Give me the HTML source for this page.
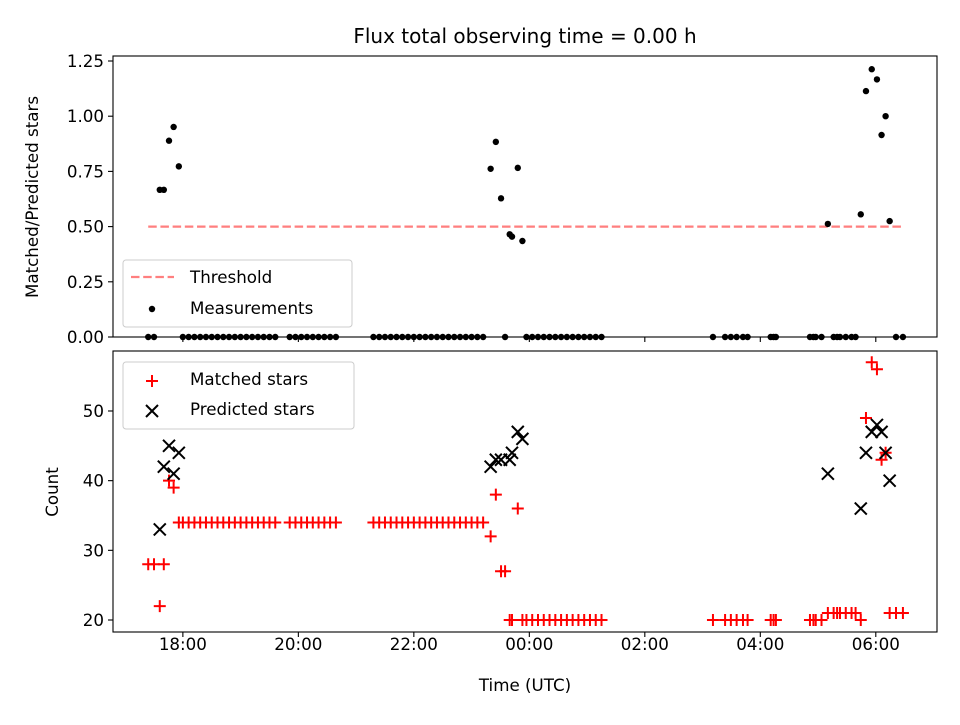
<!DOCTYPE html>
<html><head><meta charset="utf-8"><style>
html,body{margin:0;padding:0;background:#fff;}
svg text{font-family:"DejaVu Sans","Liberation Sans",sans-serif;}
</style></head><body>
<svg id="fig" width="960" height="720" xmlns="http://www.w3.org/2000/svg">
<rect width="960" height="720" fill="#fff"/>
<text x="525" y="43" font-size="20" text-anchor="middle">Flux total observing time = 0.00 h</text>
<g id="topPanel"></g>
<g id="botPanel"></g>
<text transform="translate(38,197) rotate(-90)" font-size="16.7" text-anchor="middle">Matched/Predicted stars</text>
<text transform="translate(58,492) rotate(-90)" font-size="16.7" text-anchor="middle">Count</text>
<text x="525" y="691" font-size="16.7" text-anchor="middle">Time (UTC)</text>
</svg>
<script>
// hours (values >24 are next day)
const times = [17.40,17.50,17.60,17.67,17.76,17.84,17.93,
18.0,18.1,18.2,18.3,18.4,18.5,18.6,18.7,18.8,18.9,19.0,19.1,19.2,19.3,19.4,19.5,19.6,
19.85,19.95,20.05,20.15,20.25,20.35,20.45,20.55,20.65,
21.3,21.4,21.5,21.6,21.7,21.8,21.9,22.0,22.1,22.2,22.3,22.4,22.5,22.6,22.7,22.8,22.9,23.0,23.1,23.2,
23.33,23.42,23.51,23.58,23.66,23.70,23.80,23.88,
23.95,24.05,24.15,24.25,24.35,24.45,24.55,24.65,24.75,24.85,24.95,25.05,25.15,25.25,
27.18,27.39,27.49,27.59,27.70,27.78,28.18,28.23,28.27,28.86,28.92,28.96,29.06,
29.17,29.27,29.33,29.38,29.48,29.58,29.65,29.74,29.83,29.93,30.02,30.10,30.17,30.24,30.35,30.47];
const matched = [28,28,22,28,40,39,34,
34,34,34,34,34,34,34,34,34,34,34,34,34,34,34,34,34,
34,34,34,34,34,34,34,34,34,
34,34,34,34,34,34,34,34,34,34,34,34,34,34,34,34,34,34,34,34,
32,38,27,27,20,20,36,20,
20,20,20,20,20,20,20,20,20,20,20,20,20,20,
20,20,20,20,20,20,20,20,20,20,20,20,20,
21,21,21,21,21,21,21,20,49,57,56,43,44,21,21,21];
const predicted = [0,0,33,42,45,41,44,
0,0,0,0,0,0,0,0,0,0,0,0,0,0,0,0,0,
0,0,0,0,0,0,0,0,0,
0,0,0,0,0,0,0,0,0,0,0,0,0,0,0,0,0,0,0,0,
42,43,43,0,43,44,47,46,
0,0,0,0,0,0,0,0,0,0,0,0,0,0,
0,0,0,0,0,0,0,0,0,0,0,0,0,
41,0,0,0,0,0,0,36,44,47,48,47,44,40,0,0];
const threshold = 0.5;
const xTicks = [18,20,22,24,26,28,30];
const xTickLabels = ["18:00","20:00","22:00","00:00","02:00","04:00","06:00"];
const topTicks = [0,0.25,0.5,0.75,1.0,1.25];
const topTickLabels = ["0.00","0.25","0.50","0.75","1.00","1.25"];
const botTicks = [20,30,40,50];
const botTickLabels = ["20","30","40","50"];

const NS="http://www.w3.org/2000/svg";
const L=113,R=937;
const T1=56,B1=337,T2=351,B2=632;
const X0=16.79,X1=31.06;
const xs=t=>L+(t-X0)/(X1-X0)*(R-L);
const yTop=v=>337-v*220.8;
const yBot=v=>620-(v-20)*6.967;
function mk(tag,attrs,parent){const e=document.createElementNS(NS,tag);for(const k in attrs)e.setAttribute(k,attrs[k]);parent.appendChild(e);return e;}
const topG=document.getElementById('topPanel'),botG=document.getElementById('botPanel');

function axes(g,T,B,yf,ticks,labels,showX,pfx){
  ticks.forEach((v,i)=>{const y=yf(v);
    const tl=mk('line',{x1:L-5,x2:L,y1:y,y2:y,stroke:'#000','stroke-width':1.1},g);
    
    
    const tx=mk('text',{x:L-9,y:y+6,'font-size':16.7,'text-anchor':'end'},g);tx.textContent=labels[i];
    
    
  });
  xTicks.forEach((v,i)=>{const x=xs(v);
    const tl=mk('line',{x1:x,x2:x,y1:B,y2:B+5,stroke:'#000','stroke-width':1.1},g);
    
    
    if(showX){const tx=mk('text',{x:x,y:B+18,'font-size':16.7,'text-anchor':'middle'},g);tx.textContent=xTickLabels[i];
      
      }
  });
}

// top panel
const thr=mk('line',{x1:xs(times[0]),x2:xs(times[times.length-1]),y1:yTop(threshold),y2:yTop(threshold),stroke:'#ff7f7f','stroke-width':2.2,'stroke-dasharray':'8.5,3.7'},topG);


times.forEach((t,i)=>{const r=predicted[i]>0?matched[i]/predicted[i]:0;
  const c=mk('circle',{cx:xs(t),cy:yTop(r),r:3.2,fill:'#000'},topG);
  
  });
// bottom panel
times.forEach((t,i)=>{const x=xs(t),y=yBot(matched[i]);
  const p=mk('path',{d:`M${x-6},${y}H${x+6}M${x},${y-6}V${y+6}`,stroke:'#f00','stroke-width':2,fill:'none'},botG);
  
  });
times.forEach((t,i)=>{if(predicted[i]<=0)return;const x=xs(t),y=yBot(predicted[i]);
  const p=mk('path',{d:`M${x-6},${y-6}L${x+6},${y+6}M${x-6},${y+6}L${x+6},${y-6}`,stroke:'#000','stroke-width':2,fill:'none'},botG);
  
  });

axes(topG,T1,B1,yTop,topTicks,topTickLabels,false,'ratio');
axes(botG,T2,B2,yBot,botTicks,botTickLabels,true,'count');
const f1=mk('rect',{x:L,y:T1,width:R-L,height:B1-T1,fill:'none',stroke:'#000','stroke-width':1.1},topG);


const f2=mk('rect',{x:L,y:T2,width:R-L,height:B2-T2,fill:'none',stroke:'#000','stroke-width':1.1},botG);



// legends
const lg1=mk('g',{},topG);


mk('rect',{x:123,y:260,width:229,height:67,rx:3,fill:'#fff','fill-opacity':0.8,stroke:'#ccc','stroke-width':1},lg1);
mk('line',{x1:131,x2:174,y1:277,y2:277,stroke:'#ff7f7f','stroke-width':2.2,'stroke-dasharray':'8.5,3.7'},lg1);
let t1=mk('text',{x:190,y:283,'font-size':16.7},lg1);t1.textContent='Threshold';
mk('circle',{cx:152,cy:309,r:3.2,fill:'#000'},lg1);
let t2=mk('text',{x:190,y:314,'font-size':16.7},lg1);t2.textContent='Measurements';
const lg2=mk('g',{},botG);


mk('rect',{x:123,y:362,width:231,height:67,rx:3,fill:'#fff','fill-opacity':0.8,stroke:'#ccc','stroke-width':1},lg2);
mk('path',{d:'M146,381H158M152,375V387',stroke:'#f00','stroke-width':2},lg2);
let t3=mk('text',{x:190,y:385,'font-size':16.7},lg2);t3.textContent='Matched stars';
mk('path',{d:'M146,405L158,417M146,417L158,405',stroke:'#000','stroke-width':2},lg2);
let t4=mk('text',{x:190,y:415,'font-size':16.7},lg2);t4.textContent='Predicted stars';
</script>
</body></html>
